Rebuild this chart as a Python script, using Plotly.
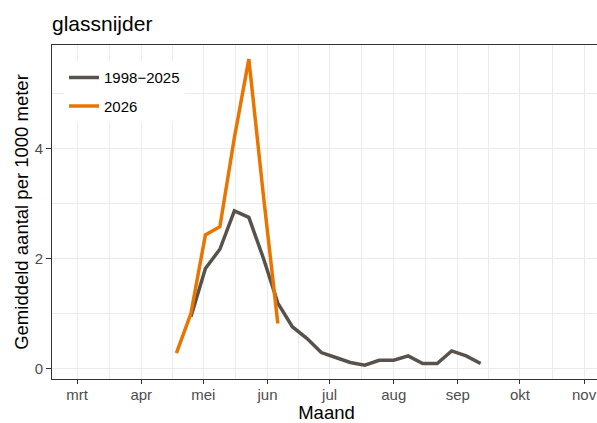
import plotly.graph_objects as go
import pandas as pd

# ---- data ----
month_labels = ["mrt", "apr", "mei", "jun", "jul", "aug", "sep", "okt", "nov"]
month_starts = ["2026-03-01", "2026-04-01", "2026-05-01", "2026-06-01", "2026-07-01",
                "2026-08-01", "2026-09-01", "2026-10-01", "2026-11-01"]

dates_hist = ["2026-04-25", "2026-05-02", "2026-05-09", "2026-05-16", "2026-05-23",
              "2026-05-30", "2026-06-06", "2026-06-13", "2026-06-20", "2026-06-27",
              "2026-07-04", "2026-07-11", "2026-07-18", "2026-07-25", "2026-08-01",
              "2026-08-08", "2026-08-15", "2026-08-22", "2026-08-29", "2026-09-05",
              "2026-09-12"]
values_hist = [0.94, 1.82, 2.17, 2.87, 2.75, 2.01, 1.19, 0.76, 0.55, 0.29,
               0.20, 0.11, 0.06, 0.15, 0.15, 0.23, 0.09, 0.09, 0.32, 0.23, 0.09]

dates_2026 = ["2026-04-18", "2026-04-25", "2026-05-02", "2026-05-09", "2026-05-16",
              "2026-05-23", "2026-05-30", "2026-06-06"]
values_2026 = [0.28, 1.00, 2.43, 2.58, 4.20, 5.63, 3.16, 0.82]

y_major = [0, 2, 4]
y_minor = [1, 3, 5]

# minor grid halfway between month starts
ms = pd.to_datetime(month_starts)
x_minor = [(ms[i] + (ms[i + 1] - ms[i]) / 2).strftime("%Y-%m-%d %H:%M") for i in range(len(ms) - 1)]

GRAY = "#57534C"
ORANGE = "#E97500"
FONT = "Liberation Sans, Arial, sans-serif"

fig = go.Figure()
fig.add_trace(go.Scatter(x=dates_hist, y=values_hist, mode="lines", name="1998\u22122025",
                         line=dict(color=GRAY, width=3.5), legendgroup="a"))
fig.add_trace(go.Scatter(x=dates_2026, y=values_2026, mode="lines", name="2026",
                         line=dict(color=ORANGE, width=3.5), legendgroup="b"))

# panel runs slightly past the right edge of the window, as in the reference
fig.update_layout(
    width=601, height=423,
    margin=dict(l=52, r=0, t=45, b=44, autoexpand=False),
    paper_bgcolor="white", plot_bgcolor="white",
    font=dict(family=FONT, color="black"),
    title=dict(text="glassnijder", font=dict(size=21, color="black", family=FONT),
               x=52 / 601, xanchor="left", xref="container",
               y=1 - 24 / 423, yanchor="middle", yref="container"),
    showlegend=True,
    legend=dict(x=0.0219, y=0.951, xanchor="left", yanchor="top",
                bgcolor="rgba(255,255,255,1)", font=dict(size=15, color="black", family=FONT),
                tracegroupgap=6, traceorder="grouped", itemwidth=30),
)

fig.update_xaxes(
    type="date", automargin=False,
    range=["2026-02-16 21:00", "2026-11-09 04:00"],
    tickmode="array", tickvals=month_starts, ticktext=month_labels,
    ticks="outside", ticklen=4, tickcolor="#333333", tickwidth=1,
    ticklabelstandoff=-2,
    tickfont=dict(size=15, color="#4D4D4D", family=FONT),
    showline=True, linecolor="#333333", linewidth=1, mirror=True,
    showgrid=True, gridcolor="#EBEBEB", gridwidth=1.2,
    minor=dict(tickmode="array", tickvals=x_minor, showgrid=True, gridcolor="#EBEBEB",
               gridwidth=0.6, ticks=""),
    zeroline=False,
    title=dict(text="Maand", font=dict(size=18.5, color="black", family=FONT), standoff=3),
)

fig.update_yaxes(
    automargin=False,
    range=[-0.191, 5.887],
    tickmode="array", tickvals=y_major, ticktext=[str(v) for v in y_major],
    ticks="outside", ticklen=5, tickcolor="#333333", tickwidth=1,
    tickfont=dict(size=15, color="#4D4D4D", family=FONT),
    showline=True, linecolor="#333333", linewidth=1, mirror=False,
    showgrid=True, gridcolor="#EBEBEB", gridwidth=1.2,
    minor=dict(tickmode="array", tickvals=y_minor, showgrid=True, gridcolor="#EBEBEB",
               gridwidth=0.6, ticks=""),
    zeroline=False,
    title=dict(text="Gemiddeld aantal per 1000 meter",
               font=dict(size=18.5, color="black", family=FONT), standoff=1),
)

fig.write_html("out.html", config={"displayModeBar": False},
               post_script="document.body.style.margin='0';document.body.style.padding='0';"
                           "document.body.style.overflow='hidden';"
                           "document.documentElement.style.overflow='hidden';")
